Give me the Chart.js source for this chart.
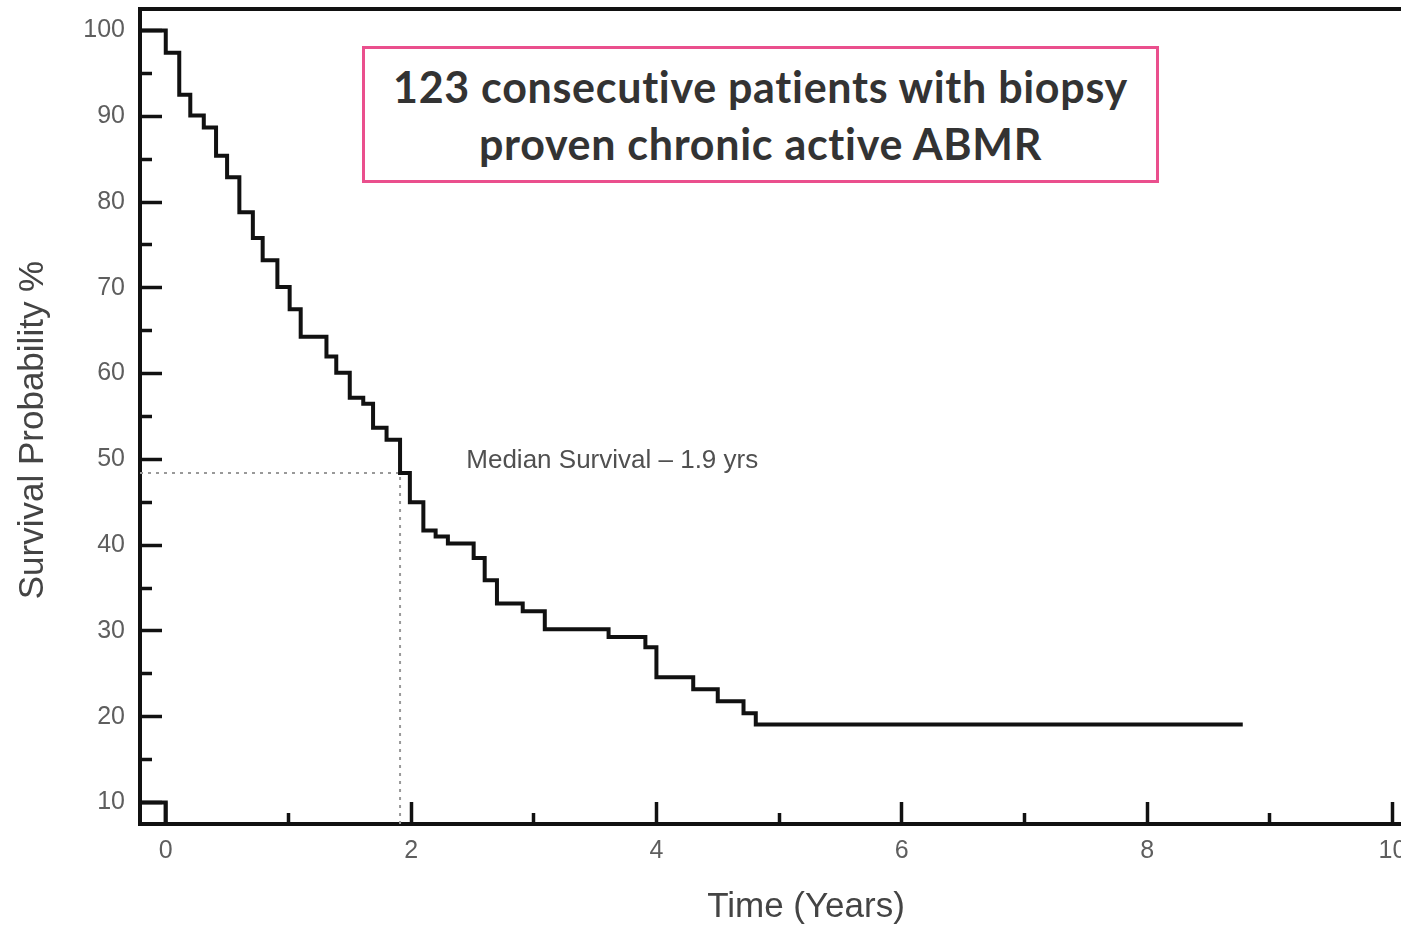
<!DOCTYPE html>
<html>
<head>
<meta charset="utf-8">
<script src="https://cdn.jsdelivr.net/npm/chart.js@4.4.1/dist/chart.umd.min.js"></script>
<style>
  body { margin: 0; background: #fff; }
  #wrap { position: relative; width: 1401px; height: 927px; overflow: hidden; }
  #titleBox {
    position: absolute; left: 362px; top: 46px; width: 797px; height: 137px;
    box-sizing: border-box; border: 3px solid #ea4f8d; background: #fff;
    font-family: Lato, "Noto Sans", sans-serif; font-weight: 700; font-size: 43px;
    letter-spacing: 0.7px; color: #333; text-align: center; line-height: 57px; padding-top: 9px;
  }
</style>
</head>
<body>
<div id="wrap">
  <canvas id="km" width="1401" height="927"></canvas>
  <div id="titleBox">123 consecutive patients with biopsy<br>proven chronic active ABMR</div>
</div>
<script>
//Kaplan-Meier curve, years and % surviving after each drop
var kmTimes = [0, 0.11, 0.20, 0.31, 0.41, 0.50, 0.60, 0.71, 0.79, 0.91,
               1.01, 1.10, 1.31, 1.39, 1.50, 1.61, 1.69, 1.80, 1.91, 1.99,
               2.10, 2.20, 2.30, 2.51, 2.60, 2.70, 2.91, 3.09, 3.61, 3.91,
               4.00, 4.30, 4.50, 4.71, 4.81, 8.78];
var kmSurvival = [97.4, 92.5, 90.1, 88.7, 85.4, 82.9, 78.8, 75.8, 73.2, 70.1,
                  67.5, 64.3, 62.0, 60.1, 57.2, 56.5, 53.7, 52.3, 48.4, 45.0,
                  41.7, 41.0, 40.2, 38.5, 35.9, 33.2, 32.3, 30.2, 29.3, 28.1,
                  24.6, 23.2, 21.8, 20.4, 19.1, 19.1];

//median survival marker
var medianTime = 1.91;
var medianSurvival = 48.4;

//the little square in the bottom left corner of the original
var cornerTimes = [-0.21, 0, 0];
var cornerValues = [10, 10, 7.5];

//axis ranges and ticks
var xMin = -0.21, xMax = 10.07;
var yMin = 7.5, yMax = 102.5;
var xTicks = [0, 1, 2, 3, 4, 5, 6, 7, 8, 9, 10];
var yTicks = [10, 15, 20, 25, 30, 35, 40, 45, 50, 55, 60, 65, 70, 75, 80, 85, 90, 95, 100];

var xTitle = 'Time (Years)';
var yTitle = 'Survival Probability %';
var medianNote = 'Median Survival \u2013 1.9 yrs';

var kmPoints = [{x: xMin, y: 100}];
for (var i = 0; i < kmTimes.length; i++) {
    kmPoints.push({x: kmTimes[i], y: kmSurvival[i]});
}
var cornerPoints = cornerTimes.map(function (t, i) { return {x: t, y: cornerValues[i]}; });
var medianPoints = [{x: xMin, y: medianSurvival}, {x: medianTime, y: medianSurvival}, {x: medianTime, y: yMin}];

var labelFont = {family: '"Liberation Sans", Arial, sans-serif', size: 25};

//text that is not part of an axis: axis titles and the median note
var notes = {
    id: 'notes',
    afterDraw: function (chart) {
        var c = chart.ctx;
        var xs = chart.scales.x, ys = chart.scales.y;
        c.save();
        c.textBaseline = 'middle';
        c.fillStyle = '#505050';
        c.font = '26px "Liberation Sans", Arial, sans-serif';
        c.textAlign = 'left';
        c.fillText(medianNote, xs.getPixelForValue(2.45), ys.getPixelForValue(49.8));

        c.fillStyle = '#444';
        c.font = '35px "Liberation Sans", Arial, sans-serif';
        c.textAlign = 'center';
        c.fillText(xTitle, 806, 907);
        c.translate(33, 430);
        c.rotate(-Math.PI / 2);
        c.fillText(yTitle, 0, 0);
        c.restore();
    }
};

function tickDashX(ctx) {
    // minor ticks only show the part next to the axis
    return ctx.tick && ctx.tick.value % 2 === 0 ? [] : [13, 100];
}
function tickDashY(ctx) {
    return ctx.tick && ctx.tick.value % 10 === 0 ? [] : [0, 10, 30, 0];
}

var ctx = document.getElementById('km').getContext('2d');
var chart = new Chart(ctx, {
    type: 'line',
    data: {
        datasets: [{
            label: 'Survival',
            data: kmPoints,
            stepped: 'before',
            borderColor: '#111',
            borderWidth: 4,
            borderJoinStyle: 'miter',
            pointRadius: 0,
            fill: false,
            order: 0
        }, {
            label: 'corner',
            data: cornerPoints,
            borderColor: '#111',
            borderWidth: 4,
            borderJoinStyle: 'miter',
            pointRadius: 0,
            fill: false,
            order: 1
        }, {
            label: 'median',
            data: medianPoints,
            borderColor: '#999',
            borderWidth: 2,
            borderDash: [3, 5],
            pointRadius: 0,
            fill: false,
            order: 2
        }]
    },
    options: {
        responsive: false,
        animation: false,
        devicePixelRatio: 1,
        layout: {padding: 0},
        plugins: {
            legend: {display: false},
            tooltip: {enabled: false}
        },
        scales: {
            x: {
                type: 'linear',
                position: 'bottom',
                min: xMin,
                max: xMax,
                afterBuildTicks: function (s) { s.ticks = xTicks.map(function (v) { return {value: v}; }); },
                afterFit: function (s) { s.height = 103; s.paddingLeft = 0; s.paddingRight = 0; },
                ticks: {
                    autoSkip: false,
                    maxRotation: 0,
                    padding: 34,
                    color: '#5e5e5e',
                    font: labelFont,
                    callback: function (v) { return v % 2 === 0 ? v : ''; }
                },
                grid: {
                    drawOnChartArea: false,
                    tickLength: -22,
                    tickWidth: 3.5,
                    tickColor: '#111',
                    tickBorderDash: tickDashX
                },
                border: {color: '#111', width: 4}
            },
            x2: {
                type: 'linear',
                position: 'top',
                min: 0,
                max: 1,
                afterFit: function (s) { s.height = 9; s.paddingLeft = 0; s.paddingRight = 0; },
                ticks: {display: false},
                grid: {display: false},
                border: {color: '#111', width: 4}
            },
            y: {
                type: 'linear',
                position: 'left',
                min: yMin,
                max: yMax,
                afterBuildTicks: function (s) { s.ticks = yTicks.map(function (v) { return {value: v}; }); },
                afterFit: function (s) { s.width = 140; s.paddingTop = 0; s.paddingBottom = 0; },
                ticks: {
                    autoSkip: false,
                    padding: 37,
                    color: '#5e5e5e',
                    font: labelFont,
                    callback: function (v) { return v % 10 === 0 ? v : ''; }
                },
                grid: {
                    drawOnChartArea: false,
                    tickLength: -22,
                    tickWidth: 3.5,
                    tickColor: '#111',
                    tickBorderDash: tickDashY
                },
                border: {color: '#111', width: 4}
            }
        }
    },
    plugins: [notes]
});
</script>
</body>
</html>
